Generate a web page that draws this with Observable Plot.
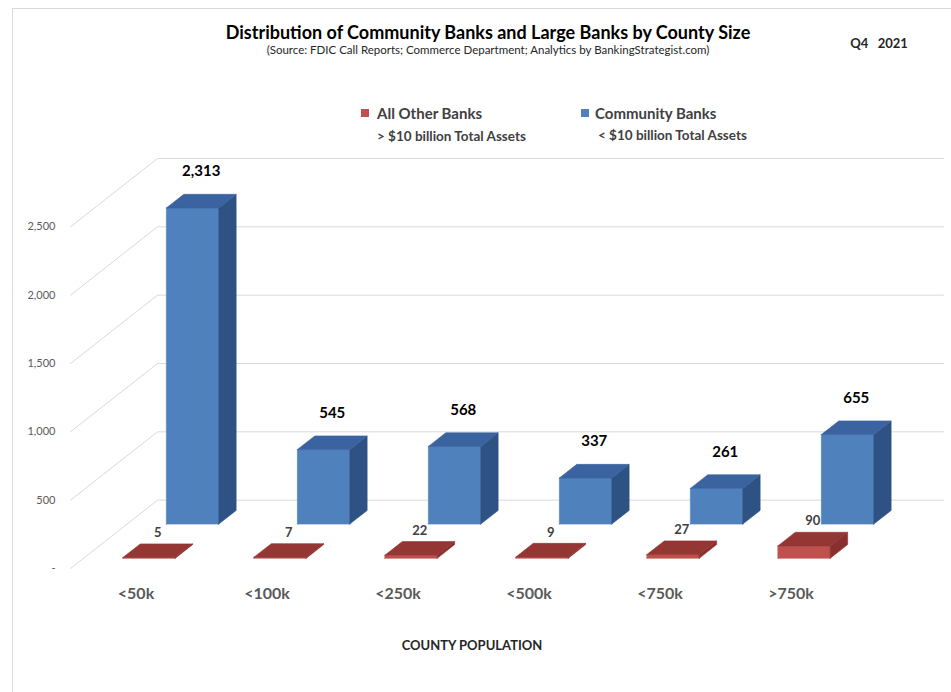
<!DOCTYPE html>
<html><head><meta charset="utf-8">
<script src="https://cdn.jsdelivr.net/npm/d3@7"></script>
<script src="https://cdn.jsdelivr.net/npm/@observablehq/plot@0.6"></script>
<style>
html,body{margin:0;padding:0;background:#fff;overflow:hidden;}
#wrap{position:relative;width:951px;height:692px;overflow:hidden;font-family:Lato,"Open Sans",sans-serif;}
#chart{position:absolute;left:0;top:0;}
#frame{position:absolute;left:12px;top:8px;width:1000px;height:720px;border:1px solid #d9d9d9;box-sizing:border-box;pointer-events:none;}
.t{position:absolute;white-space:pre;line-height:1;}
.c{transform:translate(-50%,-50%);}
.l{transform:translate(0,-50%);}
.sq{position:absolute;width:8px;height:8px;}
</style></head>
<body>
<div id="wrap">
  <div id="chart"></div>
  <div id="frame"></div>
  <div class="t c" id="title" style="left:488px;top:32px;font-size:18px;font-weight:bold;color:#000;">Distribution of Community Banks and Large Banks by County Size</div>
  <div class="t c" id="sub" style="left:488px;top:50px;font-size:11.5px;color:#262626;">(Source: FDIC Call Reports; Commerce Department; Analytics by BankingStrategist.com)</div>
  <div class="t c" id="q" style="left:879px;top:43px;font-size:13px;font-weight:bold;color:#262626;">Q4   2021</div>
  <div class="sq" id="sq0" style="left:361px;top:109px;"></div>
  <div class="t l" id="lg0" style="left:377px;top:113px;font-size:15px;font-weight:bold;color:#404040;"></div>
  <div class="t l" style="left:377px;top:137px;font-size:13.5px;font-weight:bold;color:#404040;">&gt; $10 billion Total Assets</div>
  <div class="sq" id="sq1" style="left:581px;top:109px;"></div>
  <div class="t l" id="lg1" style="left:595px;top:113px;font-size:15px;font-weight:bold;color:#404040;"></div>
  <div class="t l" style="left:598px;top:136px;font-size:13.5px;font-weight:bold;color:#404040;">&lt; $10 billion Total Assets</div>
  <div class="t c" id="xt" style="left:472px;top:645px;font-size:13px;font-weight:bold;color:#262626;">COUNTY POPULATION</div>
</div>
<script>
// ---- data ----
const categories = ["<50k", "<100k", "<250k", "<500k", "<750k", ">750k"];
const communityBanks = [2313, 545, 568, 337, 261, 655];
const otherBanks = [5, 7, 22, 9, 27, 90];
const seriesNames = ["All Other Banks", "Community Banks"];
const yTicks = [0, 500, 1000, 1500, 2000, 2500];

// ---- styling / geometry ----
const colors = {
  other: {front: "#C0504D", top: "#943634", side: "#8A2F2D"},
  community: {front: "#4F81BD", top: "#3A63A0", side: "#2E5283"}
};
const DX = 87 / 131;   // depth offset in category units
const DY = 500;        // depth offset in value units
const rows = {other: [0.15, 0.35], community: [0.65, 0.85]};
const bx0 = 0.30, bx1 = 0.70;

document.getElementById("lg0").textContent = seriesNames[0];
document.getElementById("lg1").textContent = seriesNames[1];
document.getElementById("sq0").style.background = colors.other.front;
document.getElementById("sq1").style.background = colors.community.front;

function faces(values, key) {
  const [d0, d1] = rows[key];
  const c = colors[key];
  const out = [];
  values.forEach((v, i) => {
    const P = (x, val, d) => ({x: x + d * DX, y: val + d * DY});
    const x0 = i + bx0, x1 = i + bx1;
    const polys = [
      ["f", c.front, [P(x0, 0, d0), P(x1, 0, d0), P(x1, v, d0), P(x0, v, d0), P(x0, 0, d0)]],
      ["s", c.side, [P(x1, 0, d0), P(x1, 0, d1), P(x1, v, d1), P(x1, v, d0), P(x1, 0, d0)]],
      ["t", c.top, [P(x0, v, d0), P(x1, v, d0), P(x1, v, d1), P(x0, v, d1), P(x0, v, d0)]]
    ];
    for (const [k, col, pts] of polys)
      for (const p of pts) out.push({id: key + i + k, color: col, x: p.x, y: p.y});
  });
  return out;
}

const grid = yTicks.flatMap(t => [
  {t, x: 0, y: t}, {t, x: DX, y: t + DY}, {t, x: categories.length + DX, y: t + DY}
]);

const fmt = d3.format(",");
const plot = Plot.plot({
  width: 951, height: 692,
  marginLeft: 70, marginRight: 8, marginTop: 158, marginBottom: 124,
  x: {domain: [0, categories.length + DX], axis: null},
  y: {domain: [0, 3000], axis: null},
  color: {type: "identity"},
  style: {background: "transparent", fontFamily: "Lato, 'Open Sans', sans-serif"},
  marks: [
    Plot.line(grid, {x: "x", y: "y", z: "t", stroke: "#d9d9d9", strokeWidth: 1}),
    Plot.line(faces(communityBanks, "community"), {x: "x", y: "y", z: "id", fill: "color", stroke: "color", strokeWidth: 0.6}),
    Plot.line(faces(otherBanks, "other"), {x: "x", y: "y", z: "id", fill: "color", stroke: "color", strokeWidth: 0.6}),
    Plot.text(yTicks, {x: () => 0, y: d => d, text: d => d === 0 ? "-" : fmt(d), textAnchor: "end", dx: -15, fill: "#595959", fontSize: 11}),
    Plot.text(categories, {x: (d, i) => i + 0.5, y: () => 0, text: d => d, dy: 25, fill: "#595959", fontSize: 16, fontWeight: "bold"}),
    Plot.text(communityBanks, {x: (d, i) => i + 0.5 + (rows.community[0] + rows.community[1]) / 2 * DX, y: d => d + rows.community[1] * DY, text: d => fmt(d), dy: -23, fill: "#000", fontSize: 15, fontWeight: "bold"}),
    Plot.text(otherBanks, {x: (d, i) => i + 0.5 + (rows.other[0] + rows.other[1]) / 2 * DX, y: d => d + rows.other[1] * DY, text: d => fmt(d), dy: -11, fill: "#404040", fontSize: 13, fontWeight: "bold"})
  ]
});
document.getElementById("chart").appendChild(plot);
</script>
</body></html>
